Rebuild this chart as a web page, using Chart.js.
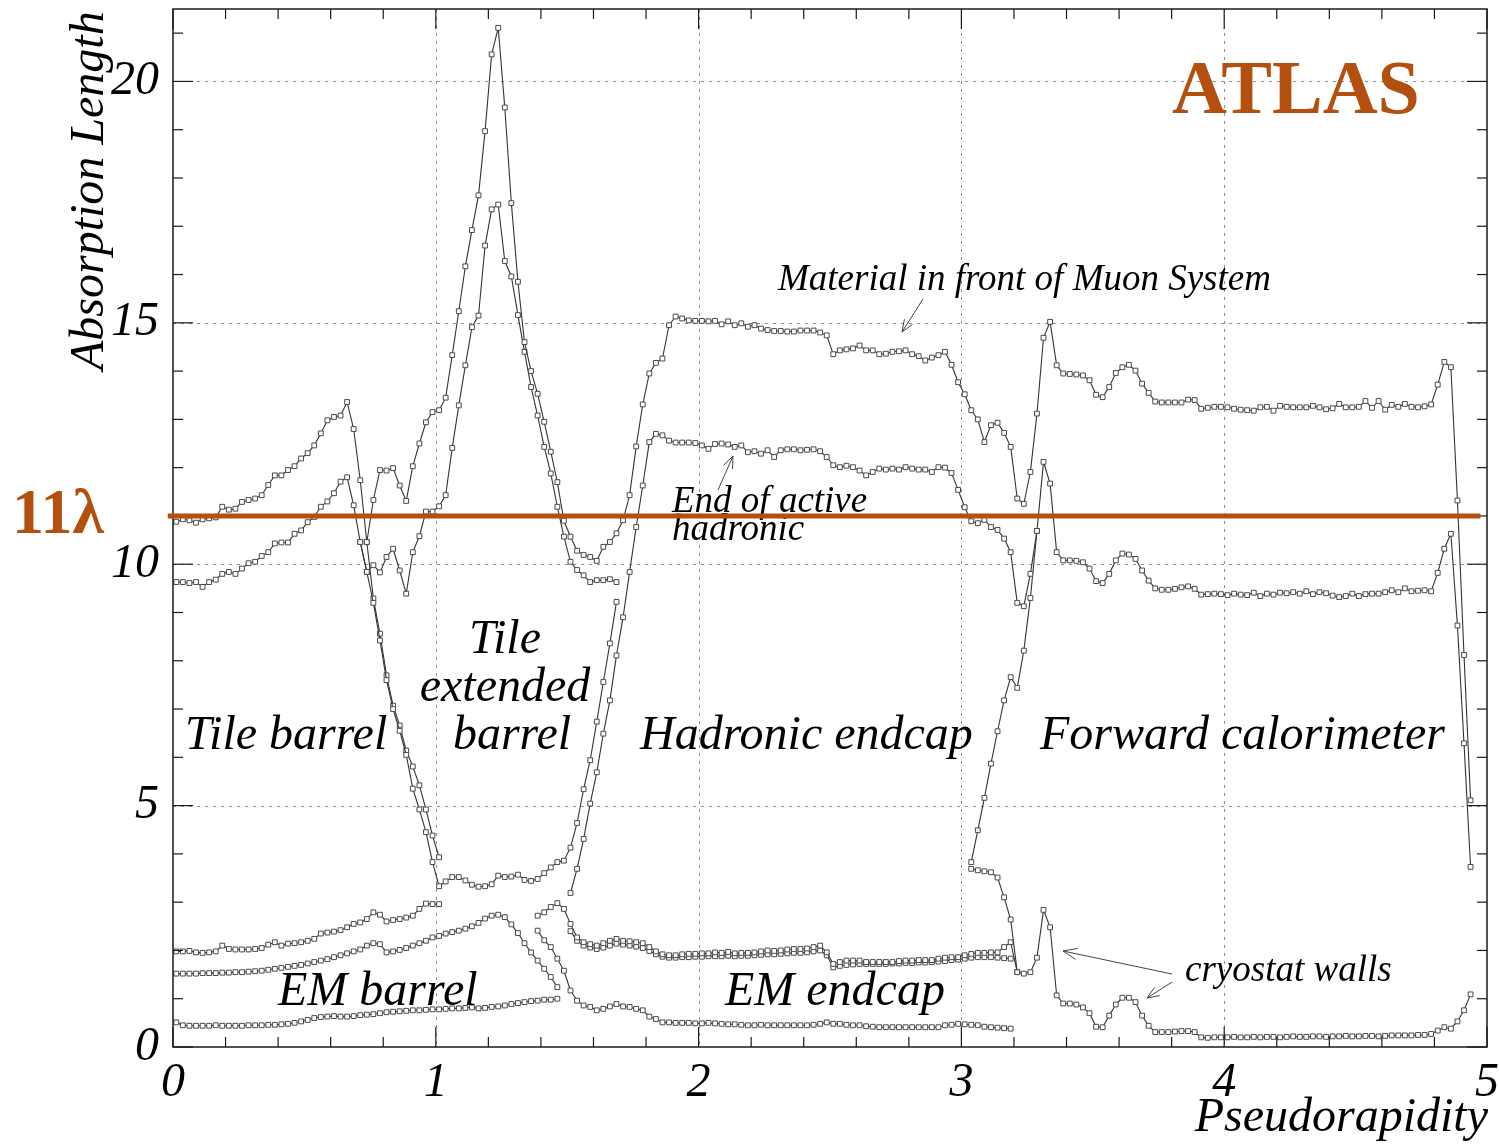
<!DOCTYPE html>
<html>
<head>
<meta charset="utf-8">
<script src="https://cdn.jsdelivr.net/npm/chart.js@4.4.1/dist/chart.umd.min.js"></script>
<style>
html,body{margin:0;padding:0;background:#ffffff;}
#wrap{width:1499px;height:1144px;position:relative;}
</style>
</head>
<body>
<div id="wrap"><canvas id="c" width="1499" height="1144"></canvas></div>
<script>
// ---------------- DATA ----------------
// pseudorapidity bin centres (0.025 wide bins)
const eta = [
0.0125,0.0375,0.0625,0.0875,0.1125,0.1375,0.1625,0.1875,0.2125,0.2375,
0.2625,0.2875,0.3125,0.3375,0.3625,0.3875,0.4125,0.4375,0.4625,0.4875,
0.5125,0.5375,0.5625,0.5875,0.6125,0.6375,0.6625,0.6875,0.7125,0.7375,
0.7625,0.7875,0.8125,0.8375,0.8625,0.8875,0.9125,0.9375,0.9625,0.9875,
1.0125,1.0375,1.0625,1.0875,1.1125,1.1375,1.1625,1.1875,1.2125,1.2375,
1.2625,1.2875,1.3125,1.3375,1.3625,1.3875,1.4125,1.4375,1.4625,1.4875,
1.5125,1.5375,1.5625,1.5875,1.6125,1.6375,1.6625,1.6875,1.7125,1.7375,
1.7625,1.7875,1.8125,1.8375,1.8625,1.8875,1.9125,1.9375,1.9625,1.9875,
2.0125,2.0375,2.0625,2.0875,2.1125,2.1375,2.1625,2.1875,2.2125,2.2375,
2.2625,2.2875,2.3125,2.3375,2.3625,2.3875,2.4125,2.4375,2.4625,2.4875,
2.5125,2.5375,2.5625,2.5875,2.6125,2.6375,2.6625,2.6875,2.7125,2.7375,
2.7625,2.7875,2.8125,2.8375,2.8625,2.8875,2.9125,2.9375,2.9625,2.9875,
3.0125,3.0375,3.0625,3.0875,3.1125,3.1375,3.1625,3.1875,3.2125,3.2375,
3.2625,3.2875,3.3125,3.3375,3.3625,3.3875,3.4125,3.4375,3.4625,3.4875,
3.5125,3.5375,3.5625,3.5875,3.6125,3.6375,3.6625,3.6875,3.7125,3.7375,
3.7625,3.7875,3.8125,3.8375,3.8625,3.8875,3.9125,3.9375,3.9625,3.9875,
4.0125,4.0375,4.0625,4.0875,4.1125,4.1375,4.1625,4.1875,4.2125,4.2375,
4.2625,4.2875,4.3125,4.3375,4.3625,4.3875,4.4125,4.4375,4.4625,4.4875,
4.5125,4.5375,4.5625,4.5875,4.6125,4.6375,4.6625,4.6875,4.7125,4.7375,
4.7625,4.7875,4.8125,4.8375,4.8625,4.8875,4.9125,4.9375
];

// Material in front of muon system (bins 0..197)
const muonFrontStart = 0;
const muonFront = [
10.88,10.93,10.91,10.86,10.93,10.95,10.97,11.19,11.13,11.15,11.29,11.33,11.36,11.43,11.64,11.84,11.84,11.95,12.03,12.19,12.3,12.46,12.71,12.98,13.05,13.08,13.36,
12.8,11.74,10.46,11.33,11.95,11.94,11.99,11.63,11.31,12.03,12.5,12.94,13.15,13.19,13.45,
14.33,15.24,16.17,16.92,17.64,18.97,20.56,21.11,
19.46,17.48,15.85,14.6,14.0,13.53,12.95,12.33,11.7,10.9,10.57,10.28,10.19,10.15,10.07,10.36,10.46,10.64,10.91,11.43,12.44,13.31,13.95,14.17,14.26,14.95,15.13,
15.09,15.05,15.04,15.04,15.03,15.04,14.97,15.03,14.95,14.99,14.92,14.95,14.88,14.85,14.83,14.83,14.82,14.82,14.84,14.84,14.84,14.8,14.74,
14.35,14.43,14.45,14.47,14.53,14.43,14.43,14.35,14.36,14.4,14.41,14.43,14.35,14.31,14.22,14.28,14.33,14.4,14.13,13.77,13.52,13.19,13.0,12.53,12.88,12.93,12.72,12.43,
11.36,11.25,11.91,13.12,14.69,15.02,14.12,13.95,13.94,13.93,13.91,13.81,13.51,13.46,13.67,13.96,14.08,14.13,14.01,13.74,13.55,13.37,13.35,13.35,13.35,13.35,13.41,13.4,13.22,
13.24,13.26,13.26,13.25,13.22,13.2,13.19,13.18,13.25,13.26,13.18,13.28,13.26,13.25,13.25,13.25,13.28,13.25,13.21,13.23,13.32,13.25,13.25,13.26,13.38,13.24,13.38,13.2,13.3,13.26,13.32,13.26,13.25,13.27,13.31,13.72,14.19,14.08,11.32,8.12,5.11
];

// End of active hadronic calorimetry, barrel part (bins 0..67)
const activeBarrelStart = 0;
const activeBarrel = [
9.63,9.63,9.61,9.63,9.53,9.63,9.68,9.8,9.84,9.8,9.91,10.02,10.05,10.17,10.25,10.43,10.45,10.45,10.63,10.7,10.87,10.98,11.19,11.3,11.47,11.71,11.8,
11.22,10.46,9.84,9.98,9.83,10.15,10.32,9.87,9.39,10.25,10.58,11.09,11.09,11.2,11.43,12.41,13.29,14.12,14.91,15.15,16.6,17.35,17.45,
16.28,15.96,15.16,14.4,13.67,13.08,12.43,11.88,11.19,10.57,10.05,9.88,9.77,9.63,9.67,9.67,9.69,9.63
];

// End of active hadronic calorimetry, endcap + forward part (bins 60..197)
const activeEndcapStart = 60;
const activeEndcap = [
3.19,3.69,4.31,5.04,5.69,6.49,7.18,8.11,8.9,9.84,10.77,11.63,12.53,12.7,12.67,12.56,12.52,
12.52,12.52,12.51,12.46,12.39,12.49,12.5,12.48,12.43,12.46,12.32,12.34,12.29,12.36,12.22,12.36,12.38,12.38,
12.36,12.37,12.38,12.34,12.22,12.05,12.01,12.04,12.01,11.94,11.84,11.91,11.98,11.96,11.98,11.96,12.01,11.98,11.96,11.96,11.91,12.01,12.0,11.89,11.54,11.18,10.89,10.85,10.92,10.77,10.71,10.53,10.25,
9.2,9.13,9.8,10.69,12.12,11.67,10.25,10.08,10.08,10.07,10.04,9.91,9.65,9.61,9.8,10.08,10.22,10.2,10.11,9.87,9.66,9.5,
9.47,9.47,9.49,9.52,9.54,9.49,9.37,9.38,9.39,9.38,9.36,9.39,9.37,9.36,9.41,9.34,9.39,9.37,9.41,9.4,9.42,9.39,9.44,9.38,9.42,9.4,9.35,9.32,9.34,9.39,9.34,9.38,9.39,9.39,9.42,9.46,9.42,9.5,9.44,9.45,9.46,9.44,9.82,10.32,10.63,8.73,6.29,3.73
];

// Tile calorimeter layer boundaries
const tileLayer1Start = 28;
const tileLayer1 = [
10.46,9.84,9.2,8.42,7.6,7.0,6.55,6.05,5.35,4.92,4.45,3.83,3.33,
3.43,3.52,3.52,3.45,3.36,3.32,3.33,3.37,3.55,3.52,3.53,3.57,3.46,3.44,3.48,3.6,3.72,3.83,3.86,4.13,4.64,5.34,5.94,6.74,7.56,8.36,9.22
];
const tileLayer2Start = 29;
const tileLayer2 = [10.46,9.29,8.56,7.7,7.07,6.66,6.14,5.81,5.42,4.92,4.38,3.93];

// Forward calorimeter layers
const fcalRiseStart = 121;
const fcalRise = [3.83,4.49,5.16,5.87,6.54,7.18,7.66,7.44,8.21,9.3,10.69];
const fcalFrontStart = 121;
const fcalFront = [
3.69,3.66,3.64,3.62,3.51,3.1,2.64,1.55,1.52,1.55,1.85,2.84,2.48,1.07,0.9,0.9,0.88,0.82,0.7,0.42,0.41,0.65,0.88,1.02,1.02,0.93,0.65,0.44,0.31,0.31,0.31,0.32,0.33,0.33,0.31,
0.2,0.19,0.2,0.2,0.2,0.21,0.2,0.2,0.21,0.2,0.21,0.21,0.2,0.21,0.22,0.21,0.21,0.22,0.22,0.21,0.22,0.22,0.23,0.22,0.22,0.23,0.23,0.22,0.23,0.24,0.24,0.24,0.24,0.25,0.25,
0.27,0.34,0.41,0.38,0.53,0.76,1.09
];

// EM calorimeter region
const emFrontBarrelStart = 0;
const emFrontBarrel = [
0.51,0.45,0.44,0.44,0.44,0.44,0.45,0.44,0.44,0.44,0.44,0.45,0.45,0.45,0.46,0.46,0.47,0.48,0.5,0.53,
0.56,0.6,0.62,0.63,0.64,0.63,0.63,0.64,0.66,0.67,0.68,0.7,0.72,0.73,0.74,0.75,0.76,0.76,0.77,0.78,
0.78,0.79,0.8,0.8,0.81,0.82,0.8,0.81,0.83,0.84,0.86,0.89,0.91,0.93,0.95,0.96,0.98,0.98,1.0
];
const emBarrelOuterStart = 0;
const emBarrelOuter = [
1.98,1.98,1.99,1.96,1.95,1.96,1.98,2.1,2.03,2.02,2.02,2.02,2.03,2.05,2.12,2.17,2.1,2.14,2.15,2.17,
2.2,2.24,2.35,2.37,2.39,2.42,2.48,2.55,2.58,2.65,2.79,2.74,2.6,2.63,2.65,2.68,2.72,2.86,2.97,2.96,2.96
];
const emBarrelInnerStart = 0;
const emBarrelInner = [
1.52,1.52,1.52,1.52,1.53,1.53,1.53,1.54,1.54,1.55,1.55,1.56,1.57,1.58,1.6,1.62,1.64,1.66,1.68,1.7,
1.73,1.76,1.79,1.82,1.86,1.9,1.94,1.98,2.02,2.1,2.15,2.13,1.96,1.98,2.01,2.05,2.1,2.15,2.2,2.27,
2.3,2.35,2.38,2.41,2.45,2.5,2.57,2.66,2.72,2.74,2.69,2.54,2.36,2.15,1.96,1.79,1.62,1.45,1.24
];
const emEndcapStart = 55;
const emEndcap = [
2.72,2.79,2.9,2.98,2.86,2.55,2.27,2.17,2.13,2.1,2.15,2.2,2.24,2.2,2.19,2.17,2.15,2.07,1.98,1.92,1.9,1.9,
1.92,1.93,1.93,1.94,1.94,1.96,1.95,1.97,1.94,1.95,1.95,1.96,1.98,2.0,1.99,2.0,2.02,2.03,2.03,2.04,2.07,2.1,
1.96,1.72,
1.76,1.79,1.79,1.79,1.76,1.76,1.76,1.76,1.76,1.78,1.79,1.79,1.8,1.8,1.8,1.83,1.85,1.86,1.86,1.9,1.93,1.95,1.95,1.96,1.96,
2.07,2.17,1.55
];
const emEndcapInnerStart = 60;
const emEndcapInner = [
2.4,2.2,2.1,2.06,2.03,2.06,2.1,2.14,2.12,2.1,2.08,2.05,1.99,1.92,1.87,1.85,1.85,
1.86,1.86,1.87,1.87,1.88,1.88,1.88,1.89,1.88,1.89,1.89,1.9,1.91,1.92,1.92,1.93,1.94,1.95,1.95,1.96,1.98,2.0,
1.9,1.65,
1.68,1.7,1.71,1.72,1.72,1.72,1.72,1.72,1.73,1.73,1.74,1.74,1.75,1.75,1.76,1.77,1.78,1.8,1.81,1.83,1.85,1.86,1.86,1.86,1.85,1.84,1.83
];
const emFrontEndcapStart = 55;
const emFrontEndcap = [
2.41,2.21,2.07,1.83,1.58,1.17,0.96,0.86,0.83,0.76,0.79,0.84,0.89,0.84,0.83,0.79,0.76,0.63,0.58,0.51,0.51,0.5,
0.5,0.5,0.49,0.49,0.5,0.49,0.48,0.47,0.47,0.46,0.45,0.45,0.46,0.45,0.45,0.45,0.45,0.45,
0.45,0.45,0.46,0.48,0.51,0.48,0.48,0.46,0.45,0.45,0.43,0.42,0.41,0.41,0.41,0.41,0.41,0.41,0.41,0.41,0.41,0.41,0.45,0.46,0.48,0.47,0.46,0.45,0.42,0.41,0.4,0.39,0.38
];

// axes
const xTickValues = [0,1,2,3,4,5];
const yTickValues = [0,5,10,15,20];
const xMinorTicks = [0.2,0.4,0.6,0.8,1.2,1.4,1.6,1.8,2.2,2.4,2.6,2.8,3.2,3.4,3.6,3.8,4.2,4.4,4.6,4.8];
const yMinorTicks = [1,2,3,4,6,7,8,9,11,12,13,14,16,17,18,19,21];
const xRange = [0,5];
const yRange = [0,21.5];
const referenceLevel = 11; // 11 lambda line

// ---------------- CHART ----------------
const SERIF = '"Liberation Serif","Times New Roman","DejaVu Serif",serif';
const ORANGE = '#b4500f';

function series(start, vals){
  return vals.map((v,i)=>({x: eta[start+i], y: v}));
}
const curveList = [
  [muonFrontStart, muonFront],
  [activeBarrelStart, activeBarrel],
  [activeEndcapStart, activeEndcap],
  [tileLayer1Start, tileLayer1],
  [tileLayer2Start, tileLayer2],
  [fcalRiseStart, fcalRise],
  [fcalFrontStart, fcalFront],
  [emFrontBarrelStart, emFrontBarrel],
  [emBarrelOuterStart, emBarrelOuter],
  [emBarrelInnerStart, emBarrelInner],
  [emEndcapStart, emEndcap],
  [emEndcapInnerStart, emEndcapInner],
  [emFrontEndcapStart, emFrontEndcap]
];
const datasets = curveList.map(([s,v])=>({
  data: series(s,v),
  borderColor:'#333333',
  borderWidth:1.1,
  pointStyle:'rect',
  pointRadius:3.4,
  pointBorderWidth:1,
  pointBorderColor:'#4a4a4a',
  pointBackgroundColor:'#ffffff',
  tension:0,
  fill:false
}));

function arrow(ctx,x1,y1,x2,y2,head){
  ctx.beginPath(); ctx.moveTo(x1,y1); ctx.lineTo(x2,y2); ctx.stroke();
  const a=Math.atan2(y2-y1,x2-x1);
  ctx.beginPath();
  ctx.moveTo(x2-head*Math.cos(a-0.38),y2-head*Math.sin(a-0.38));
  ctx.lineTo(x2,y2);
  ctx.lineTo(x2-head*Math.cos(a+0.38),y2-head*Math.sin(a+0.38));
  ctx.stroke();
}

const decor = {
  id:'decor',
  beforeDatasetsDraw(chart){
    const {ctx, chartArea:a, scales:{x,y}} = chart;
    ctx.save();
    ctx.strokeStyle='#8e8e8e'; ctx.lineWidth=1; ctx.setLineDash([3,5]);
    xTickValues.forEach(v=>{
      if(v<=xRange[0]||v>=xRange[1]) return;
      const px=Math.round(x.getPixelForValue(v))+0.5;
      ctx.beginPath(); ctx.moveTo(px,a.top); ctx.lineTo(px,a.bottom); ctx.stroke();
    });
    yTickValues.forEach(v=>{
      if(v<=yRange[0]||v>=yRange[1]) return;
      const py=Math.round(y.getPixelForValue(v))+0.5;
      ctx.beginPath(); ctx.moveTo(a.left,py); ctx.lineTo(a.right,py); ctx.stroke();
    });
    ctx.restore();
  },
  afterDatasetsDraw(chart){
    const {ctx, chartArea:a, scales:{x,y}} = chart;
    ctx.save();
    // frame
    ctx.setLineDash([]);
    ctx.strokeStyle='#1a1a1a'; ctx.lineWidth=1.5;
    ctx.strokeRect(a.left,a.top,a.right-a.left,a.bottom-a.top);
    ctx.lineWidth=1.2;
    const tick=(x1,y1,x2,y2)=>{ctx.beginPath();ctx.moveTo(x1,y1);ctx.lineTo(x2,y2);ctx.stroke();};
    xTickValues.forEach(v=>{const px=x.getPixelForValue(v); tick(px,a.bottom,px,a.bottom-20); tick(px,a.top,px,a.top+20);});
    xMinorTicks.forEach(v=>{const px=x.getPixelForValue(v); tick(px,a.bottom,px,a.bottom-10); tick(px,a.top,px,a.top+10);});
    yTickValues.forEach(v=>{const py=y.getPixelForValue(v); tick(a.left,py,a.left+20,py); tick(a.right,py,a.right-20,py);});
    yMinorTicks.forEach(v=>{const py=y.getPixelForValue(v); tick(a.left,py,a.left+10,py); tick(a.right,py,a.right-10,py);});

    // region labels
    ctx.fillStyle='#000';
    ctx.textBaseline='alphabetic';
    ctx.font='italic 48px '+SERIF;
    ctx.textAlign='left';
    ctx.fillText('Tile barrel',185,749);
    ctx.fillText('Hadronic endcap',640,749);
    ctx.fillText('Forward calorimeter',1040,749);
    ctx.fillText('EM barrel',278,1005);
    ctx.fillText('EM endcap',725,1005);
    ctx.textAlign='center';
    ctx.fillText('Tile',505,653);
    ctx.fillText('extended',505,701);
    ctx.fillText('barrel',512,749);
    ctx.textAlign='left';
    ctx.font='italic 37px '+SERIF;
    ctx.fillText('Material in front of Muon System',778,290);
    ctx.fillText('End of active',672,512);
    ctx.fillText('hadronic',672,540);
    ctx.fillText('cryostat walls',1185,981);

    // arrows
    ctx.strokeStyle='#444'; ctx.lineWidth=1;
    arrow(ctx,923,299,902,332,13);
    arrow(ctx,718,490,733,456,13);
    arrow(ctx,1172,974,1063,951,15);
    arrow(ctx,1172,982,1147,998,13);

    // axis titles
    ctx.fillStyle='#000';
    ctx.font='italic 48px '+SERIF;
    ctx.textAlign='right';
    ctx.fillText('Pseudorapidity',1488,1131);
    ctx.save();
    ctx.translate(103,370);
    ctx.rotate(-Math.PI/2);
    ctx.textAlign='left';
    ctx.fillText('Absorption Length',0,0);
    ctx.restore();

    // 11 lambda line
    const ly=y.getPixelForValue(referenceLevel);
    ctx.strokeStyle=ORANGE; ctx.lineWidth=5;
    ctx.beginPath(); ctx.moveTo(x.getPixelForValue(-0.02),ly); ctx.lineTo(x.getPixelForValue(4.975),ly); ctx.stroke();
    ctx.fillStyle=ORANGE;
    ctx.font='bold 64px '+SERIF;
    ctx.textAlign='left';
    ctx.fillText('11\u03bb',12,533);
    ctx.font='bold 76px '+SERIF;
    ctx.fillText('ATLAS',1172,113);
    ctx.restore();
  }
};

new Chart(document.getElementById('c'),{
  type:'line',
  data:{datasets},
  options:{
    responsive:false,
    animation:false,
    devicePixelRatio:1,
    layout:{padding:{left:0,top:9,right:12,bottom:0}},
    plugins:{legend:{display:false},tooltip:{enabled:false}},
    elements:{line:{borderJoinStyle:'miter'}},
    scales:{
      x:{
        type:'linear', min:xRange[0], max:xRange[1],
        grid:{display:false,drawTicks:false},
        border:{display:false},
        afterBuildTicks:s=>{s.ticks=xTickValues.map(v=>({value:v}));},
        afterFit:s=>{s.height=97; s.paddingLeft=0; s.paddingRight=0;},
        ticks:{padding:8,color:'#000',maxRotation:0,autoSkip:false,font:{family:SERIF,size:48,style:'italic'}}
      },
      y:{
        type:'linear', min:yRange[0], max:yRange[1],
        grid:{display:false,drawTicks:false},
        border:{display:false},
        afterBuildTicks:s=>{s.ticks=yTickValues.map(v=>({value:v}));},
        afterFit:s=>{s.width=173; s.paddingTop=0; s.paddingBottom=0;},
        ticks:{padding:14,color:'#000',autoSkip:false,font:{family:SERIF,size:48,style:'italic'}}
      }
    }
  },
  plugins:[decor]
});
</script>
</body>
</html>
